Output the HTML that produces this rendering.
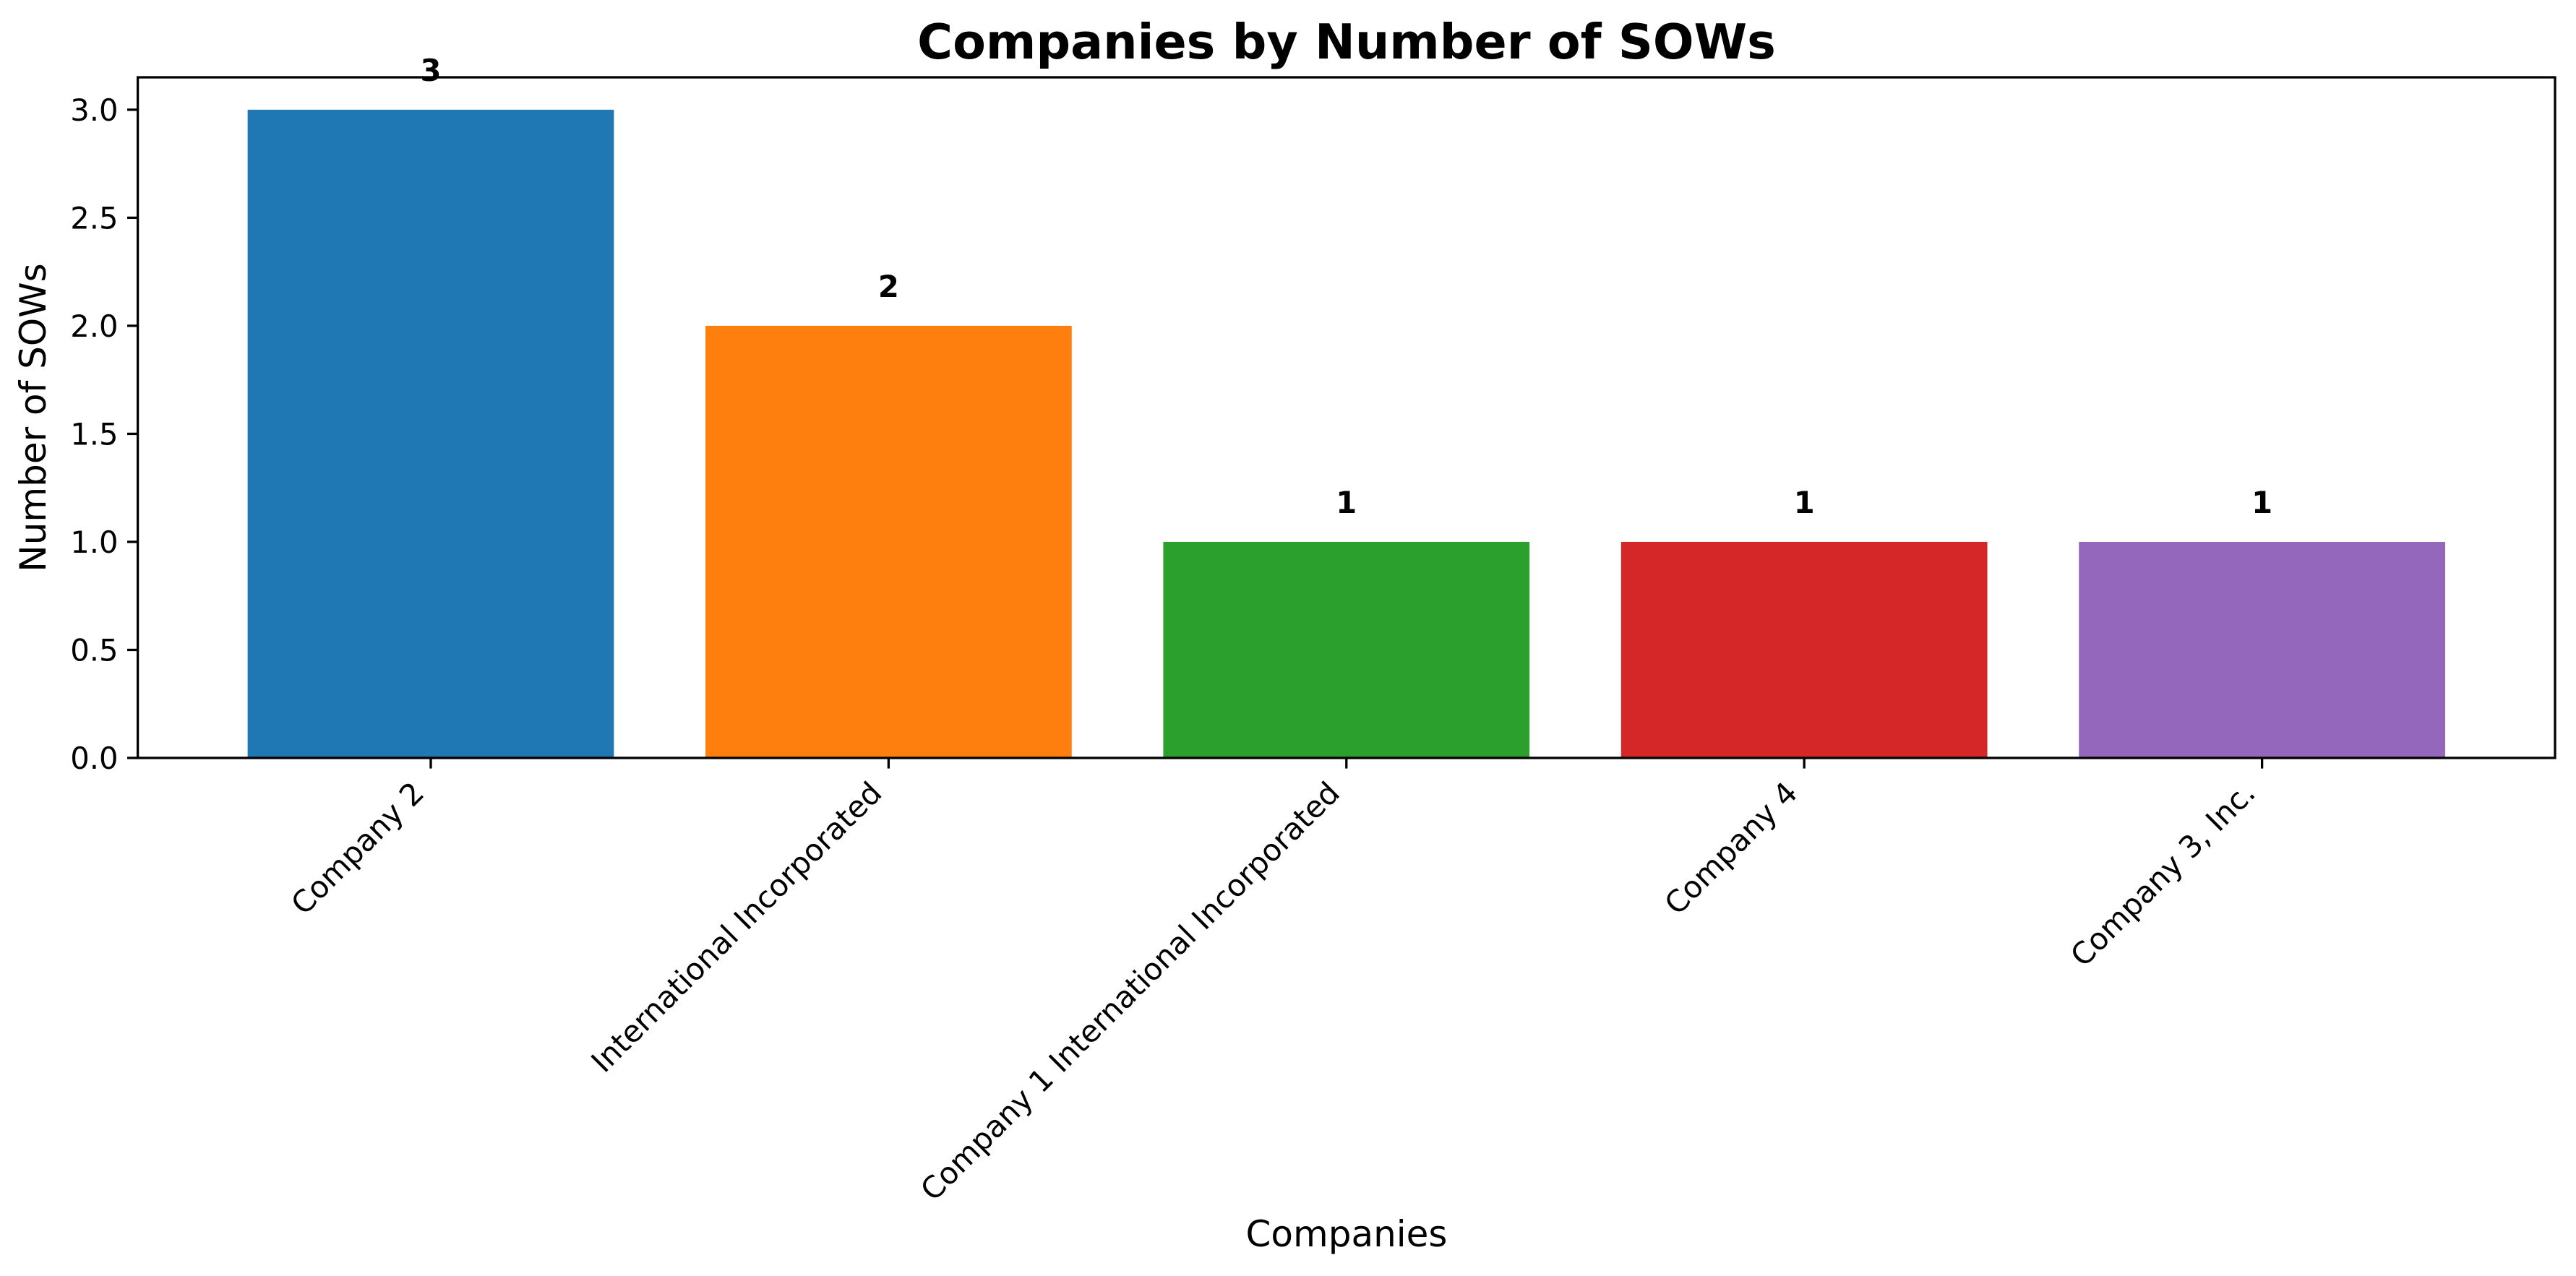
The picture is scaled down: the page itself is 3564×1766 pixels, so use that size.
<!DOCTYPE html>
<html><head><meta charset="utf-8"><style>
html,body{margin:0;padding:0;background:#fff;}
svg{display:block;font-family:"DejaVu Sans","Liberation Sans",sans-serif;}
</style></head><body>
<svg id="chart" width="3564" height="1766" viewBox="0 0 3564 1766" xmlns="http://www.w3.org/2000/svg">
<rect width="3564" height="1766" fill="#fff"/>
<text x="1863" y="81" text-anchor="middle" font-size="66.7" font-weight="bold">Companies by Number of SOWs</text>
<text transform="translate(63,578) rotate(-90)" text-anchor="middle" font-size="50">Number of SOWs</text>
<text x="1863" y="1725" text-anchor="middle" font-size="50">Companies</text>
<g id="bars"></g>
<g id="yticks"></g>
<g id="xticks"></g>
<rect x="190.6" y="107" width="3344.4" height="942" fill="none" stroke="#000" stroke-width="3.3"/>
</svg>
<script>
const categories = ["Company 2", "International Incorporated", "Company 1 International Incorporated", "Company 4", "Company 3, Inc."];
const values = [3, 2, 1, 1, 1];
const colors = ["#1f77b4", "#ff7f0e", "#2ca02c", "#d62728", "#9467bd"];
const yTicks = [0, 0.5, 1, 1.5, 2, 2.5, 3];
const yTickLabels = ["0.0", "0.5", "1.0", "1.5", "2.0", "2.5", "3.0"];

const NS = "http://www.w3.org/2000/svg";
const L = 190.6, R = 3535, T = 107, B = 1049;
const xMin = -0.64, xMax = categories.length - 1 + 0.64;
const yMin = 0, yMax = Math.max(...values) * 1.05;
const xs = v => L + (v - xMin) / (xMax - xMin) * (R - L);
const ys = v => B - (v - yMin) / (yMax - yMin) * (B - T);
function mk(tag, attrs, parent) {
  const e = document.createElementNS(NS, tag);
  for (const k in attrs) e.setAttribute(k, attrs[k]);
  parent.appendChild(e);
  return e;
}
const gb = document.getElementById("bars");
const gy = document.getElementById("yticks");
const gx = document.getElementById("xticks");
const bw = 0.8;
categories.forEach((c, i) => {
  const x0 = xs(i - bw / 2), x1 = xs(i + bw / 2);
  const r = mk("rect", {x: x0, y: ys(values[i]), width: x1 - x0, height: ys(0) - ys(values[i]), fill: colors[i]}, gb);
  
  
  const t = mk("text", {x: xs(i), y: ys(values[i] + 0.1) - 10, "text-anchor": "middle", "font-size": 41.7, "font-weight": "bold"}, gb);
  t.textContent = values[i];
  
  
  const tk = mk("line", {x1: xs(i), x2: xs(i), y1: B, y2: B + 14.6, stroke: "#000", "stroke-width": 3.3}, gx);
  
  
  const lb = mk("text", {transform: "translate(" + (xs(i) - 7) + "," + (1100) + ") rotate(-45)", "text-anchor": "end", "font-size": 41.7}, gx);
  lb.textContent = c;
  
  
});
yTicks.forEach((v, i) => {
  const tk = mk("line", {x1: L - 14.6, x2: L, y1: ys(v), y2: ys(v), stroke: "#000", "stroke-width": 3.3}, gy);
  
  
  const lb = mk("text", {x: L - 27, y: ys(v) + 15, "text-anchor": "end", "font-size": 41.7}, gy);
  lb.textContent = yTickLabels[i];
  
  
});
</script>
</body></html>
